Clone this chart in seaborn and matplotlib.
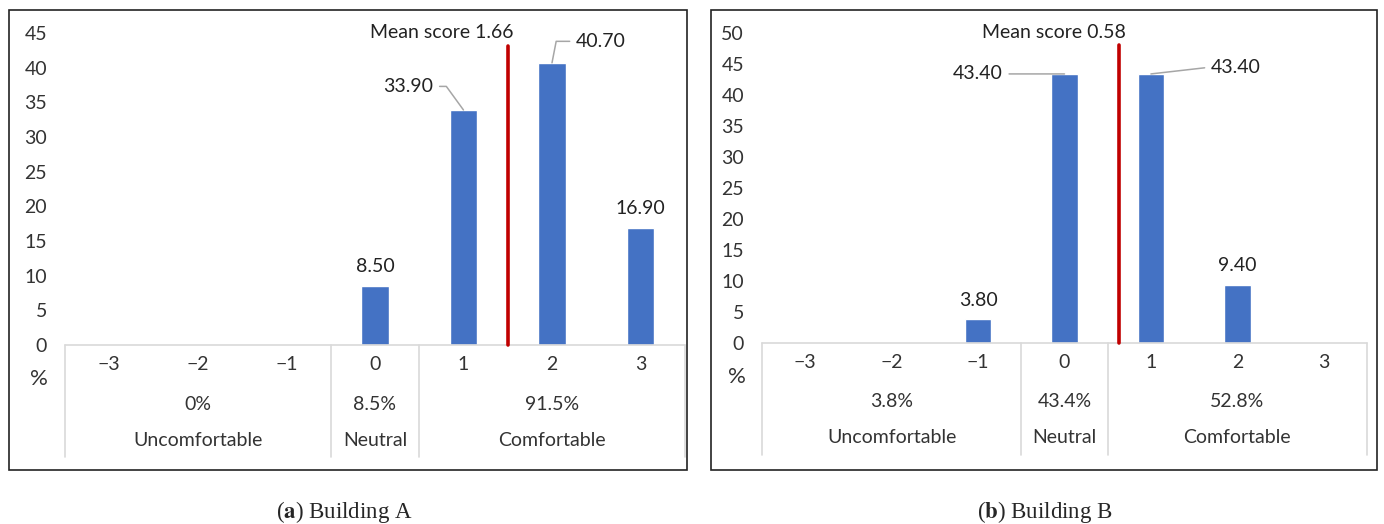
import matplotlib
matplotlib.use("Agg")
import matplotlib.pyplot as plt
import matplotlib.transforms as mtransforms
from matplotlib.patches import Rectangle
import seaborn as sns

# thermal comfort votes, % of respondents per score
scores = ["\u22123", "\u22122", "\u22121", "0", "1", "2", "3"]
pct_a = [0, 0, 0, 8.5, 33.9, 40.7, 16.9]
pct_b = [0, 0, 3.8, 43.4, 43.4, 9.4, 0]

groups = ["Uncomfortable", "Neutral", "Comfortable"]
group_spans = [(0, 2), (3, 3), (4, 6)]
share_a = ["0%", "8.5%", "91.5%"]
share_b = ["3.8%", "43.4%", "52.8%"]

mean_a = 1.66
mean_b = 0.58
# the red marker sits here in the source figure (score units)
mean_line_a = 1.5
mean_line_b = 0.63

captions = [("a", "Building A"), ("b", "Building B")]

BLUE = "#4472C4"
RED = "#C00000"
GRID = "#D9D9D9"
LEADER = "#A6A6A6"
FS = 14

sns.set_theme(style="white")
plt.rcParams["font.family"] = ["Lato", "DejaVu Sans"]
plt.rcParams["mathtext.fontset"] = "stix"

fig = plt.figure(figsize=(13.84, 5.24), dpi=100)
ax_a = fig.add_axes([0.047, 0.3416, 0.4478, 0.5954])
ax_b = fig.add_axes([0.5506, 0.3454, 0.4371, 0.5916])


def draw_panel(ax, values, shares, mean, line_pos, line_top, ymax, leaders, mean_x):
    sns.barplot(x=scores, y=values, order=scores, color=BLUE, width=0.31,
                saturation=1, ax=ax)
    ax.set_ylim(0, ymax)
    ax.set_xlim(-0.5, 6.5)
    ax.set_yticks(range(0, ymax + 1, 5))
    ax.tick_params(axis="y", length=0, pad=13, labelsize=FS, colors="#333333")
    ax.tick_params(axis="x", length=0, pad=8, labelsize=FS, colors="#333333")
    ax.set_xlabel("")
    ax.set_ylabel("")
    for s in ax.spines.values():
        s.set_visible(False)

    trans = mtransforms.blended_transform_factory(ax.transData, ax.transAxes)
    ax.plot([-0.5, 6.5], [0, 0], color=GRID, lw=1.2, transform=trans, clip_on=False)
    for xb in [-0.5, 2.5, 3.5, 6.5]:
        ax.plot([xb, xb], [0, -0.36], color=GRID, lw=1.2, transform=trans, clip_on=False)
    for (lo, hi), share, name in zip(group_spans, shares, groups):
        xc = (lo + hi) / 2
        ax.text(xc, -0.19, share, transform=trans, ha="center", va="center",
                fontsize=FS, color="#333333")
        ax.text(xc, -0.305, name, transform=trans, ha="center", va="center",
                fontsize=FS, color="#333333")
    ax.text(-0.042, -0.11, "%", transform=ax.transAxes, ha="center", va="center",
            fontsize=16, color="#333333")

    # mean marker
    xm = line_pos + 3
    ax.plot([xm, xm], [0, line_top], color=RED, lw=2.6, clip_on=False, zorder=4)
    ax.text(mean_x, ymax * 1.003, f"Mean score {mean:.2f}", ha="center", va="center",
            fontsize=FS, color="#222222", clip_on=False)

    # data labels
    for i, v in enumerate(values):
        if v == 0:
            continue
        if i in leaders:
            tx, ty, rel, conn = leaders[i]
            ax.annotate(f"{v:.2f}", xy=(i, v), xytext=(tx, ty), ha="center", va="center",
                        fontsize=FS, color="#222222",
                        arrowprops=dict(arrowstyle="-", color=LEADER, lw=1.1,
                                        shrinkA=2, shrinkB=0, relpos=rel,
                                        connectionstyle=conn))
        else:
            ax.annotate(f"{v:.2f}", xy=(i, v), xytext=(0, 14), textcoords="offset points",
                        ha="center", va="center", fontsize=FS, color="#222222")


leaders_a = {
    4: (3.38, 37.3, (1, 0.5), "angle,angleA=0,angleB=126,rad=0"),
    5: (5.55, 43.8, (0, 0.5), "angle,angleA=180,angleB=79,rad=0"),
}
leaders_b = {
    3: (2.0, 43.4, (1, 0.5), "arc3"),
    4: (4.98, 44.5, (0, 0.5), "arc3"),
}

draw_panel(ax_a, pct_a, share_a, mean_a, mean_line_a, 43.1, 45, leaders_a, 3.75)
draw_panel(ax_b, pct_b, share_b, mean_b, mean_line_b, 48.1, 50, leaders_b, 2.88)

# panel frames
fig.patches.append(Rectangle((0.0065, 0.103), 0.4899, 0.878, transform=fig.transFigure,
                             fill=False, edgecolor="#222222", lw=1.2))
fig.patches.append(Rectangle((0.5137, 0.103), 0.4812, 0.878, transform=fig.transFigure,
                             fill=False, edgecolor="#222222", lw=1.2))

for xc, (letter, name) in zip([0.249, 0.755], captions):
    fig.text(xc, 0.023, rf"($\mathbf{{{letter}}}$) {name}", ha="center", va="center",
             fontsize=16.5, family=["Liberation Serif", "DejaVu Serif"])

fig.savefig("out.png", dpi=100)
